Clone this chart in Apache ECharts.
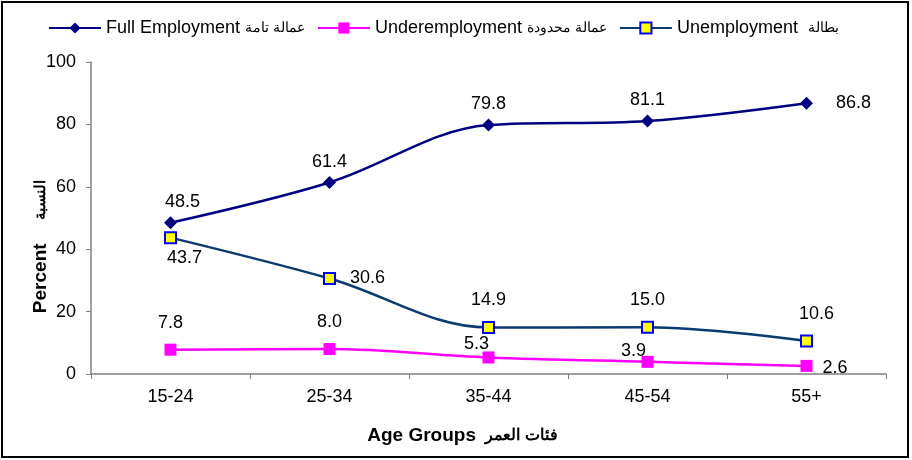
<!DOCTYPE html>
<html>
<head>
<meta charset="utf-8">
<script src="https://cdn.jsdelivr.net/npm/echarts@6/dist/echarts.min.js"></script>
<style>
html, body { margin: 0; padding: 0; background: #fff; }
#chart { width: 912px; height: 460px; }
</style>
</head>
<body>
<div id="chart"></div>
<script>
// age groups on the x axis
var ageGroups = ['15-24', '25-34', '35-44', '45-54', '55+'];
// percent values per series
var fullEmployment = [48.5, 61.4, 79.8, 81.1, 86.8];
var underEmployment = [7.8, 8.0, 5.3, 3.9, 2.6];
var unemployment = [43.7, 30.6, 14.9, 15.0, 10.6];
var seriesNames = [
    'Full Employment عمالة تامة',
    'Underemployment عمالة محدودة',
    'Unemployment  بطالة'
];

var FONT = 'Liberation Sans, Arial, sans-serif';

// label placement per point (style only)
var fullLabels = [
    {position: 'top', offset: [12, 0]},
    {position: 'top', offset: [0, 0]},
    {position: 'top', offset: [0, 0]},
    {position: 'top', offset: [0, 0]},
    {position: 'right', offset: [18, 0]}
];
var underLabels = [
    {position: 'top', offset: [0, -7]},
    {position: 'top', offset: [0, -7]},
    {position: 'top', offset: [-12, 7]},
    {position: 'top', offset: [-14, 9]},
    {position: 'right', offset: [5, 2]}
];
var unempLabels = [
    {position: 'bottom', offset: [14, 0]},
    {position: 'right', offset: [9, 0]},
    {position: 'top', offset: [0, -7]},
    {position: 'top', offset: [0, -7]},
    {position: 'top', offset: [10, -6]}
];

function build(values, labels)
{
    var out = [];
    for (var i = 0; i < values.length; i++) {
        out.push({value: values[i], label: labels[i]});
    }
    return out;
}

// split a mixed name so the arabic part gets its own (smaller) style
function mixed(name)
{
    var k = name.search(/[\u0600-\u06FF]/);
    if (k < 0) return '{en|' + name + '}';
    return '{en|' + name.substring(0, k) + '}{ar|' + name.substring(k) + '}';
}

var labelStyle = {
    show: true,
    color: '#000',
    fontFamily: FONT,
    fontSize: 18,
    formatter: function (p) { return p.value.toFixed(1); }
};

var chart = echarts.init(document.getElementById('chart'));
var option = {
    animation: false,
    backgroundColor: '#fff',
    graphic: [{
        type: 'rect',
        shape: {x: 2, y: 2, width: 906, height: 455},
        style: {fill: 'none', stroke: '#000', lineWidth: 2},
        silent: true
    }],
    legend: {
        left: 43,
        top: 14,
        itemWidth: 52,
        itemHeight: 14,
        itemGap: 12,
        formatter: mixed,
        textStyle: {
            fontFamily: FONT, fontSize: 18, color: '#000',
            rich: {
                en: {fontFamily: FONT, fontSize: 18, color: '#000'},
                ar: {fontFamily: FONT, fontSize: 14, color: '#000'}
            }
        },
        data: seriesNames
    },
    grid: {left: 91, right: 26, top: 62, bottom: 86},
    xAxis: {
        type: 'category',
        data: ageGroups,
        boundaryGap: true,
        name: mixed('Age Groups فئات العمر'),
        nameLocation: 'middle',
        nameGap: 52,
        nameMoveOverlap: false,
        nameTextStyle: {
            fontFamily: FONT, fontSize: 19, fontWeight: 'bold', color: '#000',
            padding: [0, 52, 0, 0],
            rich: {
                en: {fontFamily: FONT, fontSize: 19, fontWeight: 'bold', color: '#000'},
                ar: {fontFamily: FONT, fontSize: 16, fontWeight: 'bold', color: '#000',
                     padding: [0, 0, 0, 4]}
            }
        },
        axisLine: {lineStyle: {color: '#808080', width: 1.5}},
        axisTick: {show: true, length: 5, lineStyle: {color: '#808080'}},
        axisLabel: {fontFamily: FONT, fontSize: 18, color: '#000', margin: 14},
        splitLine: {show: false}
    },
    yAxis: {
        type: 'value',
        min: 0,
        max: 100,
        interval: 20,
        name: mixed('Percent  النسبة'),
        nameLocation: 'middle',
        nameRotate: 90,
        nameGap: 41,
        nameMoveOverlap: false,
        nameTextStyle: {
            fontFamily: FONT, fontSize: 19, fontWeight: 'bold', color: '#000',
            padding: [0, 57, 0, 0],
            rich: {
                en: {fontFamily: FONT, fontSize: 19, fontWeight: 'bold', color: '#000'},
                ar: {fontFamily: FONT, fontSize: 15, fontWeight: 'bold', color: '#000',
                     padding: [0, 0, 0, 13]}
            }
        },
        axisLine: {show: true, lineStyle: {color: '#808080', width: 1.5}},
        axisTick: {show: true, length: 5, lineStyle: {color: '#808080'}},
        axisLabel: {fontFamily: FONT, fontSize: 18, color: '#000', margin: 15},
        splitLine: {show: false}
    },
    series: [
        {
            name: seriesNames[0],
            type: 'line',
            smooth: 0.35,
            symbol: 'diamond',
            symbolSize: 13,
            lineStyle: {color: '#000080', width: 2.5},
            itemStyle: {color: '#000080'},
            label: labelStyle,
            data: build(fullEmployment, fullLabels)
        },
        {
            name: seriesNames[1],
            type: 'line',
            smooth: 0.35,
            symbol: 'rect',
            symbolSize: 12,
            lineStyle: {color: '#ff00ff', width: 2.5},
            itemStyle: {color: '#ff00ff'},
            label: labelStyle,
            data: build(underEmployment, underLabels)
        },
        {
            name: seriesNames[2],
            type: 'line',
            smooth: 0.35,
            symbol: 'rect',
            symbolSize: 11,
            lineStyle: {color: '#0a3a6e', width: 2.5},
            itemStyle: {color: '#ffff00', borderColor: '#0000ff', borderWidth: 2},
            label: labelStyle,
            data: build(unemployment, unempLabels)
        }
    ]
};
chart.setOption(option, true);
</script>
</body>
</html>
